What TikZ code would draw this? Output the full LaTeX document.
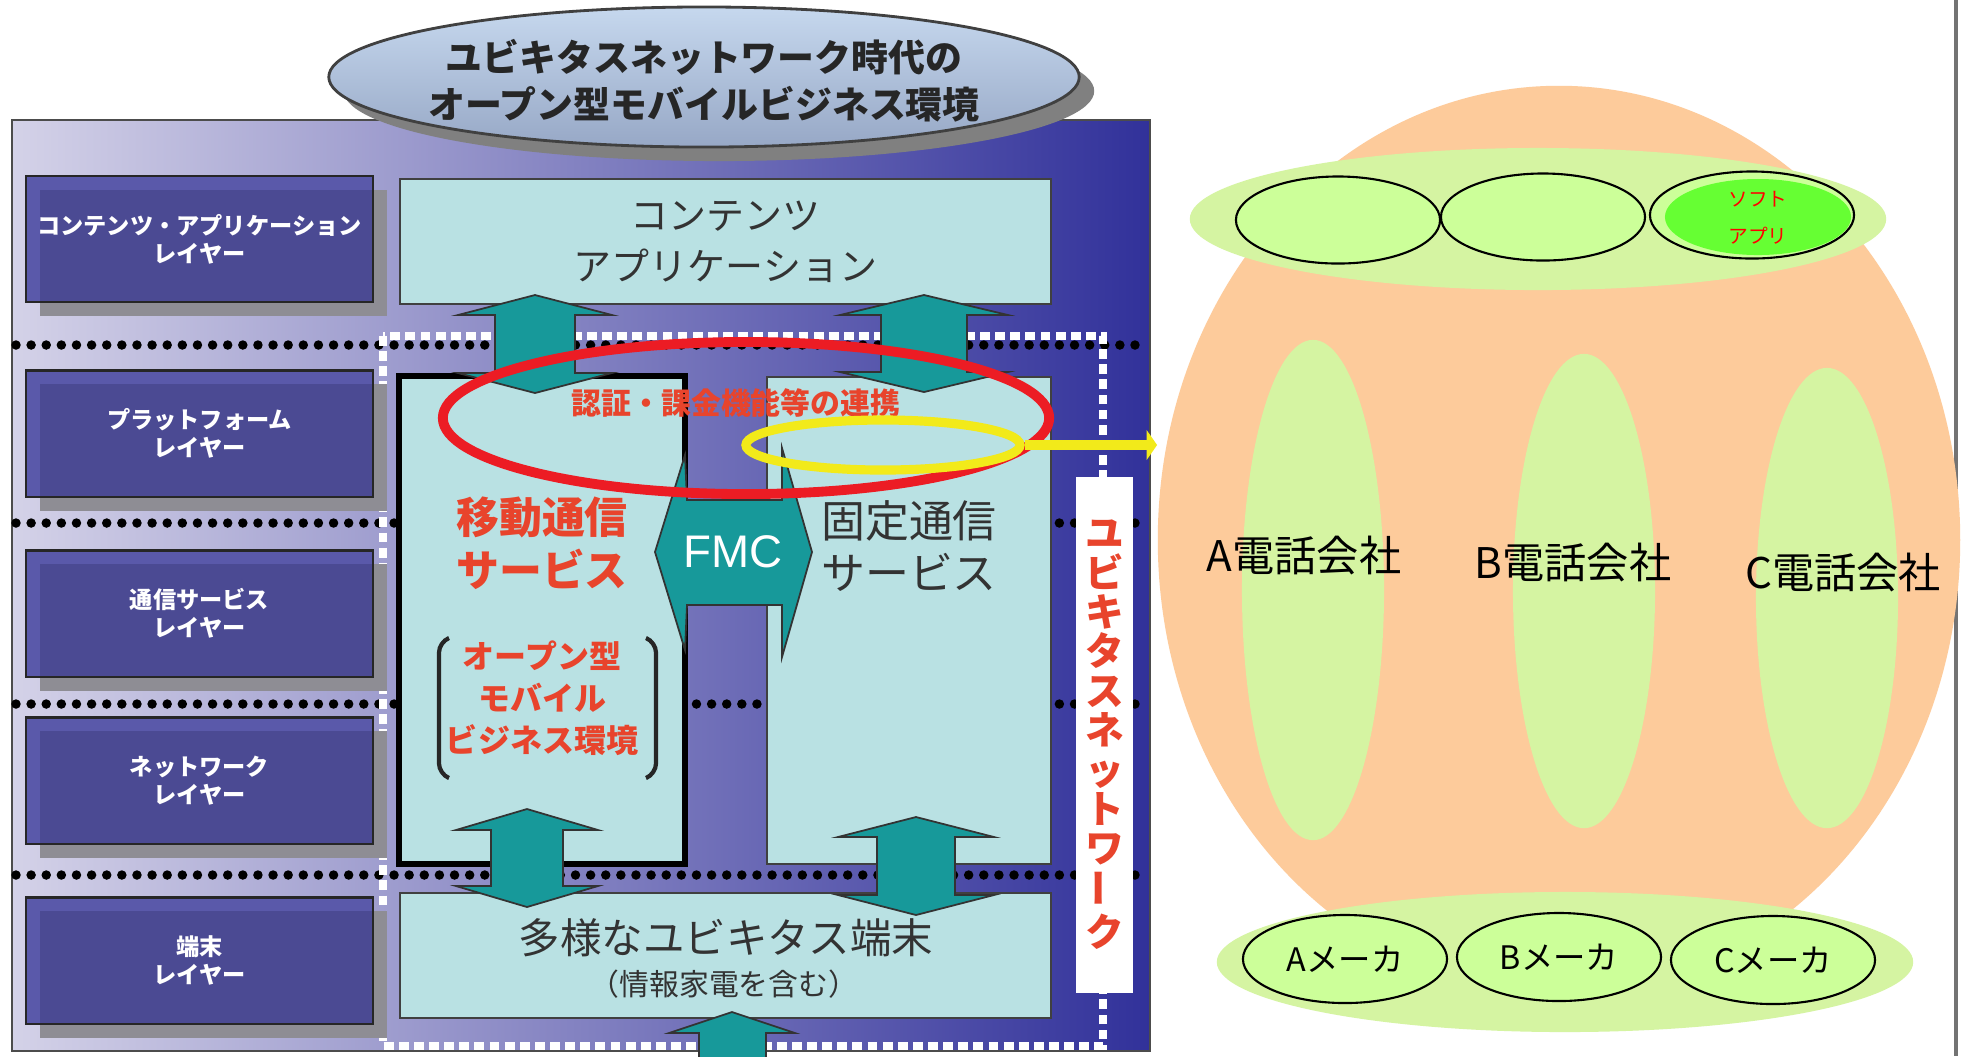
\documentclass[tikz,border=0pt]{standalone}
\usepackage{fontspec}
\usepackage{graphicx}
\setmainfont{Noto Sans CJK JP}
\newfontfamily\latinsf{Liberation Sans}
\usetikzlibrary{shapes.geometric,shadows,arrows.meta}

\definecolor{layerdark}{HTML}{4B4A93}
\definecolor{layerlight}{HTML}{5A59AA}
\definecolor{shadowgray}{HTML}{8E8D94}
\definecolor{paleblue}{HTML}{B9E1E3}
\definecolor{fatteal}{HTML}{17999A}
\definecolor{alertred}{HTML}{EC1C24}
\definecolor{textred}{HTML}{E8442C}
\definecolor{linkyellow}{HTML}{F2EA1A}
\definecolor{peach}{HTML}{FDCB9B}
\definecolor{bandgreen}{HTML}{D5F4A2}
\definecolor{cellgreen}{HTML}{CCFF99}
\definecolor{softgreen}{HTML}{66FF33}
\definecolor{titletop}{HTML}{C6D8EE}
\definecolor{titlebot}{HTML}{97A8C6}
\definecolor{panelleft}{HTML}{D4D2E8}
\definecolor{panelmid}{HTML}{A09ECC}
\definecolor{panelright}{HTML}{31319A}

\newcommand{\fsz}[2]{\fontsize{#1}{#2}\selectfont}
% x, top tip, bottom tip, half head, half shaft, head length
\newcommand{\dblarrow}[6]{%
  \filldraw[fatarrow] (#1,#2) -- ({#1+#4},{#2+#6}) -- ({#1+#5},{#2+#6}) -- ({#1+#5},{#3-#6})
    -- ({#1+#4},{#3-#6}) -- (#1,#3) -- ({#1-#4},{#3-#6}) -- ({#1-#5},{#3-#6})
    -- ({#1-#5},{#2+#6}) -- ({#1-#4},{#2+#6}) -- cycle;}

\begin{document}
\begin{tikzpicture}[x=0.01cm, y=-0.01cm,
  layer/.style={draw=black!85, fill=layerlight, line width=0.6pt, minimum width=3.47cm, minimum height=1.26cm,
    inner sep=0pt, text=white, align=center, font=\bfseries\fsz{6.6}{8},
    drop shadow={shadow xshift=0.14cm, shadow yshift=-0.14cm, fill=shadowgray, opacity=1},
    path picture={\fill[layerdark] ([xshift=0.14cm,yshift=-0.14cm]path picture bounding box.north west)
      rectangle (path picture bounding box.south east);}},
  svcbox/.style={draw=black!75, fill=paleblue, line width=0.5pt, inner sep=0pt},
  redtext/.style={text=textred, align=center},
  fatarrow/.style={fill=fatteal, draw=black!80, line width=0.5pt},
  dotline/.style={line width=2.7pt, line cap=round, dash pattern=on 0pt off 4.3pt},
  band/.style={ellipse, fill=bandgreen, inner sep=0pt},
  cell/.style={ellipse, draw, fill=cellgreen, line width=0.6pt, minimum width=2.04cm, minimum height=0.87cm, inner sep=0pt}]

\useasboundingbox (0,0) rectangle (1966,1056);
\fill[white] (0,0) rectangle (1966,1056);

% layered model
\shade[left color=panelleft, middle color=panelmid, right color=panelright, draw=black!70]
  (12,120) rectangle (1150,1051);
\fill[black!50] (719,91) ellipse [x radius=3.75cm, y radius=0.7cm];
\shade[top color=titletop, bottom color=titlebot, draw=black!75, line width=0.8pt]
  (704,77) ellipse [x radius=3.75cm, y radius=0.7cm];
\node[font=\bfseries\fsz{10.5}{13.4}, text=black!85, align=center] (title) at (704,81)
  {ユビキタスネットワーク時代の\\オープン型モバイルビジネス環境};

\foreach \y in {345,523,704,875}
  \draw[dotline] (16,\y) -- (1148,\y);
\draw[white, line width=2.3pt, dash pattern=on 2.8pt off 1.5pt] (383,336) rectangle (1103,1046);

\node[layer] (lay1) at (199.5,239) {コンテンツ・アプリケーション\\レイヤー};
\node[layer] (lay2) at (199.5,433.5) {プラットフォーム\\レイヤー};
\node[layer] (lay3) at (199.5,613.5) {通信サービス\\レイヤー};
\node[layer] (lay4) at (199.5,780.5) {ネットワーク\\レイヤー};
\node[layer] (lay5) at (199.5,960.5) {端末\\レイヤー};

\node[svcbox, minimum width=6.51cm, minimum height=1.25cm, font=\fsz{10.8}{14.5}, text=black!80, align=center]
  (contents) at (725.5,241.5) {コンテンツ\\アプリケーション};
\node[svcbox, draw=black, line width=1.8pt, minimum width=2.86cm, minimum height=4.88cm] (mobile) at (542,620) {};
\node[svcbox, minimum width=2.84cm, minimum height=4.87cm] (fixed) at (909,620.5) {};
\node[svcbox, minimum width=6.51cm, minimum height=1.25cm] (terminal) at (725.5,955.5) {};

\dblarrow{535}{295}{393}{77}{40}{20}
\dblarrow{924}{295}{392}{84}{43}{20}
\dblarrow{527}{809}{907}{71}{36}{21}
\dblarrow{916}{817}{915}{78}{39}{20}
\filldraw[fatarrow] (732,1012) -- (795,1033) -- (766,1033) -- (766,1060) -- (699,1060) -- (699,1033) -- (669,1033) -- cycle;

\filldraw[fatarrow] (655,552) -- (685,455) -- (687,500) -- (782,500) -- (782,448) -- (812,552)
  -- (782,657) -- (782,605) -- (687,605) -- (685,650) -- cycle;
\node[font=\latinsf\fsz{13}{15}, text=white] (fmc) at (733,552) {FMC};

\node[redtext, font=\bfseries\fsz{12.2}{15}] (mobiletext) at (542,543) {移動通信\\サービス};
\node[font=\fsz{12.5}{15}, text=black!80, align=center] (fixedtext) at (909,546) {固定通信\\サービス};
\node[redtext, font=\bfseries\fsz{9.1}{12}] (opentext) at (542,698) {オープン型\\モバイル\\ビジネス環境};
\draw[line width=1.2pt, black!85, rounded corners=3pt] (449,638) -- (439,642) -- (439,774) -- (449,778);
\draw[line width=1.2pt, black!85, rounded corners=3pt] (646,638) -- (656,642) -- (656,774) -- (646,778);
\node[font=\fsz{11.8}{14}, text=black!80] (termtext) at (726,938) {多様なユビキタス端末};
\node[font=\fsz{8.5}{10}, text=black!80] (termnote) at (724,984) {（情報家電を含む）};

\node[fill=white, minimum width=0.57cm, minimum height=5.16cm, inner sep=0pt, redtext, font=\bfseries\fsz{11}{11.2}]
  (ubiqnet) at (1104.5,735) {ユ\\ビ\\キ\\タ\\ス\\ネ\\ッ\\ト\\ワ\\\rotatebox{90}{ー}\\ク};

% right side
\draw[black!55, line width=1.4pt] (1956,0) -- (1956,1056);
\node[ellipse, fill=peach, minimum width=8.02cm, minimum height=9.08cm, inner sep=0pt] (world) at (1559,540) {};
\node[band, minimum width=6.96cm, minimum height=1.42cm] (appband) at (1538,219) {};
\node[cell] (app1) at (1338,220) {};
\node[cell] (app2) at (1543,217) {};
\node[cell] (app3) at (1752,215) {};
\node[ellipse, fill=softgreen, minimum width=1.86cm, minimum height=0.76cm, inner sep=0pt] (soft) at (1758,217) {};
\node[font=\fsz{5.6}{10.5}, text=red, align=center] (softtext) at (1758,218) {ソフト\\アプリ};

\node[band, minimum width=1.42cm, minimum height=5.0cm] (carrierA) at (1313,590) {};
\node[band, minimum width=1.42cm, minimum height=4.74cm] (carrierB) at (1584,591) {};
\node[band, minimum width=1.42cm, minimum height=4.6cm] (carrierC) at (1827,598) {};
\node[font=\fsz{12}{14}] (labelA) at (1304,556) {A電話会社};
\node[font=\fsz{12}{14}] (labelB) at (1573,563) {B電話会社};
\node[font=\fsz{12}{14}] (labelC) at (1843,573) {C電話会社};

\node[band, minimum width=6.96cm, minimum height=1.40cm] (makerband) at (1565,962) {};
\node[cell, minimum height=0.88cm, font=\fsz{9.2}{11}] (makerA) at (1345,959) {Aメーカ};
\node[cell, minimum height=0.88cm, font=\fsz{9.2}{11}] (makerB) at (1559,957) {Bメーカ};
\node[cell, minimum height=0.88cm, font=\fsz{9.2}{11}] (makerC) at (1773,960) {Cメーカ};

% links
\node[ellipse, draw=alertred, line width=2.8pt, minimum width=6.06cm, minimum height=1.52cm, inner sep=0pt] (auth) at (746,418) {};
\node[redtext, font=\bfseries\fsz{8.5}{10}] (authtext) at (736,403) {認証・課金機能等の連携};
\node[ellipse, draw=linkyellow, line width=2.6pt, minimum width=2.74cm, minimum height=0.5cm, inner sep=0pt] (link) at (883,445) {};
\draw[linkyellow, line width=2.8pt, -{Triangle[length=3pt,width=8.5pt]}] (link.east) -- (link.east -| world.west);
\end{tikzpicture}
\end{document}
